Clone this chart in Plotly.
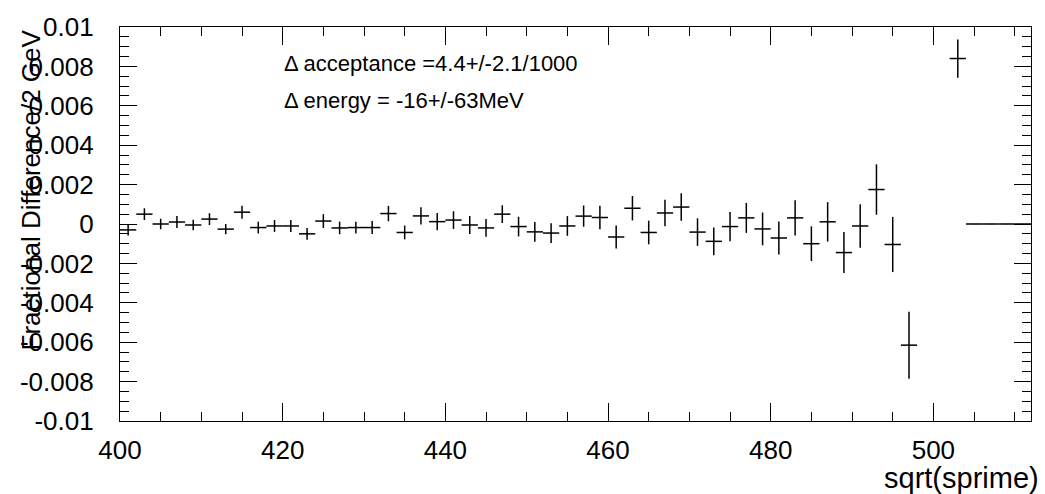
import plotly.graph_objects as go

# Data: bin centres (bin width 2 GeV), fractional difference and its error
bin_centers = [401, 403, 405, 407, 409, 411, 413, 415, 417, 419,
               421, 423, 425, 427, 429, 431, 433, 435, 437, 439,
               441, 443, 445, 447, 449, 451, 453, 455, 457, 459,
               461, 463, 465, 467, 469, 471, 473, 475, 477, 479,
               481, 483, 485, 487, 489, 491, 493, 495, 497, 503,
               505, 507, 509, 511]
frac_diff = [-0.0003, 0.0005, 0.0, 0.0001, -0.00005, 0.00025, -0.00026, 0.0006, -0.00018, -0.0001,
             -0.0001, -0.0005, 0.00015, -0.0002, -0.00018, -0.00018, 0.00053, -0.00043, 0.00041, 0.00012,
             0.0002, -0.00005, -0.0002, 0.0005, -0.00013, -0.0004, -0.00046, -0.0001, 0.0004, 0.00033,
             -0.00066, 0.0008, -0.00043, 0.00056, 0.00086, -0.00041, -0.00088, -0.00013, 0.00031, -0.00025,
             -0.00071, 0.00031, -0.001, 0.00011, -0.00145, -0.0001, 0.00175, -0.00104, -0.00615, 0.0084,
             0.0, 0.0, 0.0, 0.0]
frac_err = [0.00028, 0.0003, 0.00027, 0.0003, 0.00027, 0.0003, 0.00026, 0.00033, 0.0003, 0.0003,
            0.0003, 0.0003, 0.00035, 0.00032, 0.0003, 0.00033, 0.00039, 0.00035, 0.00044, 0.00044,
            0.00045, 0.00046, 0.00045, 0.00045, 0.0005, 0.0005, 0.0005, 0.0005, 0.00054, 0.0006,
            0.00058, 0.00062, 0.0006, 0.00067, 0.0007, 0.0007, 0.0007, 0.00074, 0.00076, 0.00083,
            0.00084, 0.0009, 0.00088, 0.001, 0.00104, 0.0011, 0.00128, 0.0014, 0.0017, 0.00097,
            0.0, 0.0, 0.0, 0.0]
half_bin = [1.0] * len(bin_centers)

y_tick_vals = [0.01, 0.008, 0.006, 0.004, 0.002, 0.0, -0.002, -0.004, -0.006, -0.008, -0.01]
y_tick_text = ["0.01", "0.008", "0.006", "0.004", "0.002", "0", "-0.002", "-0.004", "-0.006", "-0.008", "-0.01"]
x_tick_vals = [400, 420, 440, 460, 480, 500]

FONT = "Liberation Sans, Arial, Helvetica, sans-serif"

fig = go.Figure()
fig.add_trace(go.Scatter(
    x=bin_centers, y=frac_diff, mode="markers",
    marker=dict(size=1, color="black"),
    error_y=dict(type="data", array=frac_err, visible=True, color="black", thickness=1.5, width=0),
    error_x=dict(type="data", array=half_bin, visible=True, color="black", thickness=1.5, width=0),
    showlegend=False, hoverinfo="x+y",
))

L, R, T, B = 120, 14, 17, 73
W, H = 1045, 494
pw, ph = W - L - R, H - T - B

def px(xp):
    return (xp - L) / pw

def py(yp):
    return (H - B - yp) / ph

fig.update_layout(
    width=W, height=H,
    margin=dict(l=L, r=R, t=T, b=B, pad=0),
    paper_bgcolor="white", plot_bgcolor="white",
    font=dict(family=FONT, color="black", size=26),
    xaxis=dict(
        range=[400, 512], showgrid=False, zeroline=False,
        showline=True, linecolor="black", linewidth=1.2, mirror="allticks",
        ticks="inside", ticklen=18, tickwidth=1, tickcolor="black",
        tickvals=x_tick_vals, tickfont=dict(size=26, family=FONT),
        ticklabelstandoff=6,
        minor=dict(ticks="inside", ticklen=9, tickwidth=1, tickcolor="black", dtick=5, tick0=400),
    ),
    yaxis=dict(
        range=[-0.01, 0.01], showgrid=False, zeroline=False,
        showline=True, linecolor="black", linewidth=1.2, mirror="allticks",
        ticks="inside", ticklen=17, tickwidth=1, tickcolor="black",
        tickvals=y_tick_vals, ticktext=y_tick_text, tickfont=dict(size=26, family=FONT),
        ticklabelstandoff=20,
        minor=dict(ticks="inside", ticklen=9, tickwidth=1, tickcolor="black", dtick=0.0005, tick0=0),
    ),
    annotations=[
        dict(text="sqrt(sprime)", xref="paper", yref="paper", x=px(1041), y=py(479),
             xanchor="right", yanchor="middle", showarrow=False, font=dict(size=29, family=FONT)),
        dict(text="Fractional Difference/2 GeV", xref="paper", yref="paper", x=px(31), y=py(18),
             xanchor="center", yanchor="top", textangle=-90, showarrow=False, font=dict(size=26, family=FONT)),
        dict(text="Δ acceptance =4.4+/-2.1/1000", xref="paper", yref="paper", x=px(282), y=py(54),
             xanchor="left", yanchor="middle", showarrow=False, font=dict(size=22, family=FONT)),
        dict(text="Δ energy = -16+/-63MeV", xref="paper", yref="paper", x=px(282), y=py(92),
             xanchor="left", yanchor="middle", showarrow=False, font=dict(size=22, family=FONT)),
    ],
)

fig.write_html("out.html")
